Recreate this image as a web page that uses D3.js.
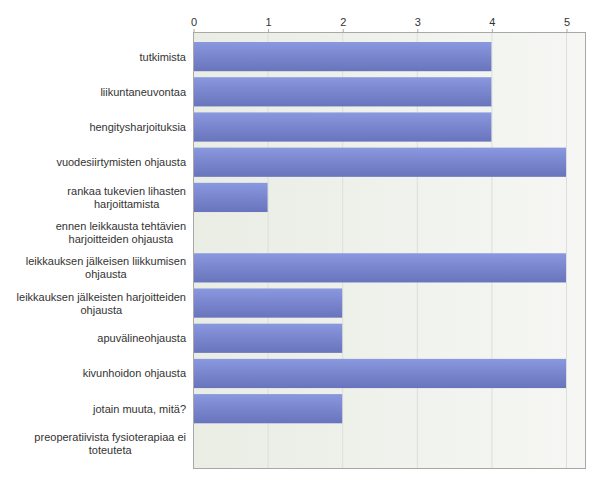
<!DOCTYPE html>
<html><head><meta charset="utf-8">
<script src="https://cdn.jsdelivr.net/npm/d3@7"></script>
<style>body{margin:0;background:#fff}svg{display:block}</style>
</head><body>
<svg id="c" width="600" height="484"></svg>
<script>
const categories = [
  "tutkimista",
  "liikuntaneuvontaa",
  "hengitysharjoituksia",
  "vuodesiirtymisten ohjausta",
  "rankaa tukevien lihasten\nharjoittamista",
  "ennen leikkausta tehtävien\nharjoitteiden ohjausta",
  "leikkauksen jälkeisen liikkumisen\nohjausta",
  "leikkauksen jälkeisten harjoitteiden\nohjausta",
  "apuvälineohjausta",
  "kivunhoidon ohjausta",
  "jotain muuta, mitä?",
  "preoperatiivista fysioterapiaa ei\ntoteuteta"
];
const values = [4, 4, 4, 5, 1, 0, 5, 2, 2, 5, 2, 0];
const ticks = [0, 1, 2, 3, 4, 5];

const svg = d3.select("#c");
const plotL = 193, plotR = 586, plotT = 32, plotB = 469;
const x = d3.scaleLinear().domain([0, 5]).range([plotL, 566]);
const y = d3.scaleBand().domain(categories).range([39, 461.5]).paddingInner(6/35.2).paddingOuter(3/35.2);

const defs = svg.append("defs");
const bg = defs.append("linearGradient").attr("id", "bg").attr("x1", 0).attr("x2", 1).attr("y1", 0).attr("y2", 0);
bg.append("stop").attr("offset", 0).attr("stop-color", "#e9ede4");
bg.append("stop").attr("offset", 1).attr("stop-color", "#f6f7f4");
const bar = defs.append("linearGradient").attr("id", "bar").attr("x1", 0).attr("x2", 0).attr("y1", 0).attr("y2", 1);
bar.append("stop").attr("offset", 0).attr("stop-color", "#8a98e0");
bar.append("stop").attr("offset", 1).attr("stop-color", "#6874bb");

svg.append("rect").attr("x", plotL).attr("y", plotT).attr("width", plotR - plotL).attr("height", plotB - plotT)
  .attr("fill", "url(#bg)");

// gridlines
svg.append("g").selectAll("line").data(ticks.slice(1)).join("line")
  .attr("x1", d => x(d) + 0.5).attr("x2", d => x(d) + 0.5)
  .attr("y1", plotT).attr("y2", plotB)
  .attr("stroke", "#dcdeda").attr("stroke-width", 1);

// bars
svg.append("g").selectAll("rect").data(values).join("rect")
  .attr("x", x(0))
  .attr("y", (d, i) => y(categories[i]))
  .attr("width", d => x(d) - x(0))
  .attr("height", y.bandwidth())
  .attr("fill", "url(#bar)");

// border
svg.append("rect").attr("x", plotL + 0.5).attr("y", plotT + 0.5).attr("width", plotR - plotL - 1).attr("height", plotB - plotT - 1)
  .attr("fill", "none").attr("stroke", "#a8a8a8");

// top axis
const axis = d3.axisTop(x).tickValues(ticks).tickSize(3).tickFormat(d3.format("d"));
const ag = svg.append("g").attr("transform", `translate(0.5,${plotT})`).call(axis);
ag.select(".domain").remove();
ag.selectAll(".tick line").attr("stroke", "#a8a8a8");
ag.selectAll(".tick text").attr("font-family", "Liberation Sans, Arial, sans-serif").attr("font-size", 11)
  .attr("fill", "#333");

// category labels
const lg = svg.append("g").attr("font-family", "Liberation Sans, Arial, sans-serif").attr("font-size", 11).attr("fill", "#333");
categories.forEach(c => {
  const lines = c.split("\n");
  const cy = y(c) + y.bandwidth() / 2;
  const t = lg.append("text").attr("text-anchor", "middle");
  const lh = 13;
  lines.forEach((l, i) => {
    t.append("tspan").attr("x", 0).attr("y", cy + (i - (lines.length - 1) / 2) * lh + 4).text(l);
  });
  let maxW = 0;
  t.selectAll("tspan").each(function() { maxW = Math.max(maxW, this.getComputedTextLength()); });
  t.selectAll("tspan").attr("x", 186 - maxW / 2);
});
</script>
</body></html>
